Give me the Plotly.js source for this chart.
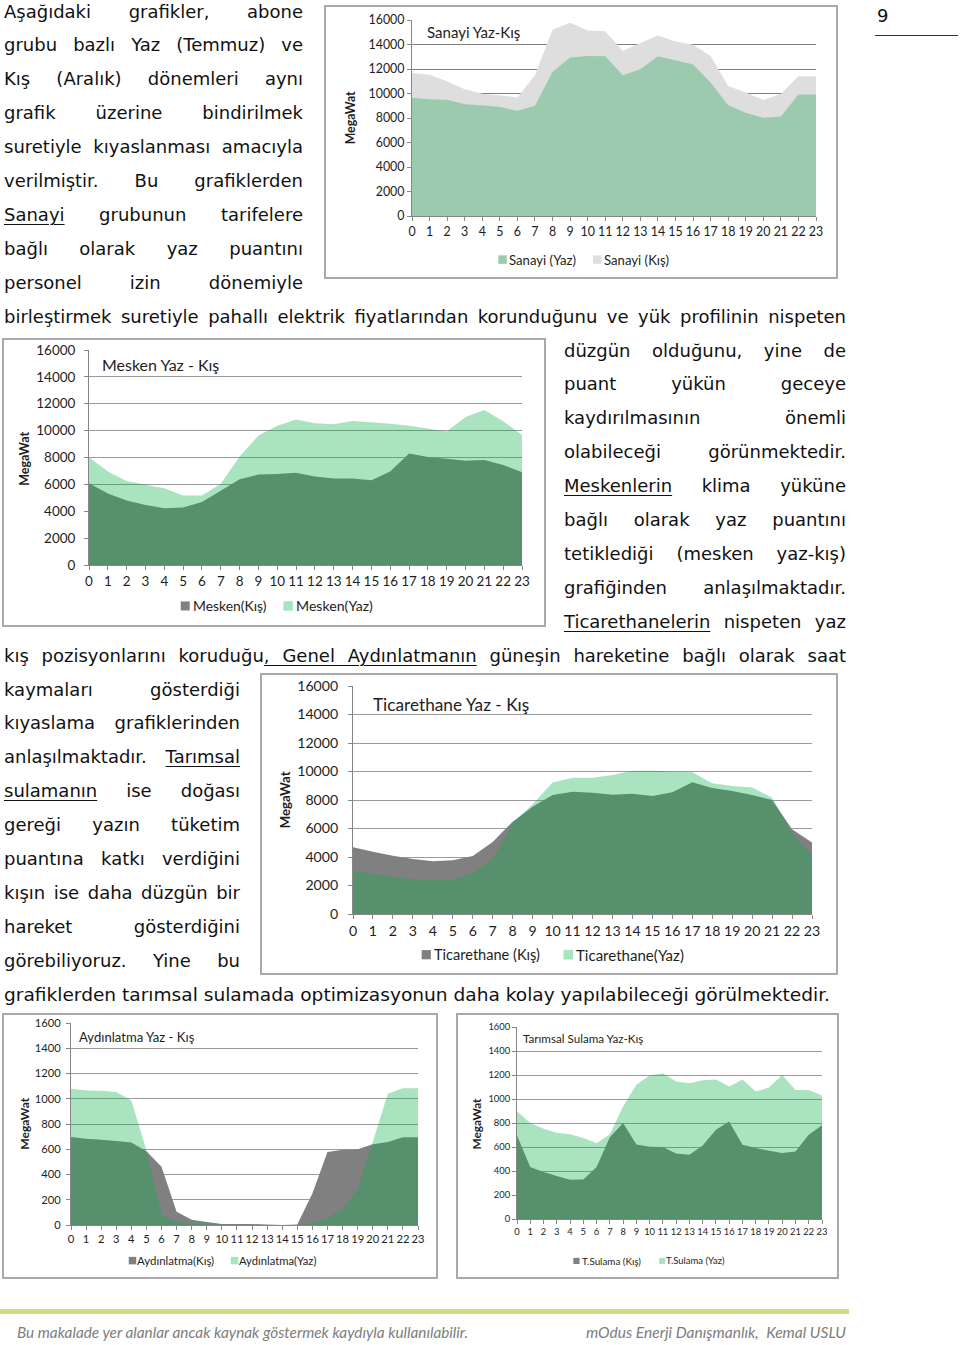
<!DOCTYPE html>
<html>
<head>
<meta charset="utf-8">
<script src="https://cdn.plot.ly/plotly-3.0.1.min.js"></script>
<style>
  html,body{margin:0;padding:0;background:#fff;}
  #page{position:relative;width:960px;height:1345px;overflow:hidden;background:#fff;
        font-family:"DejaVu Sans",Verdana,sans-serif;font-size:18px;color:#111;}
  .ln{position:absolute;height:34px;line-height:34px;}
  .in{display:inline-block;white-space:nowrap;transform-origin:0 50%;}
  .ln u{text-decoration:underline;text-underline-offset:3px;text-decoration-thickness:1px;}
  .foot{font-family:"Lato","Open Sans",sans-serif;font-style:italic;font-weight:400;color:#7d7d7d;font-size:15px;}
  .ch{position:absolute;}
  .frame{position:absolute;border:2px solid #a9a9a9;box-sizing:border-box;pointer-events:none;}
</style>
</head>
<body>
<div id="page"></div>
<script>
// ---------------- data ----------------
const hours = [0,1,2,3,4,5,6,7,8,9,10,11,12,13,14,15,16,17,18,19,20,21,22,23];
const hourLabels = ["0","1","2","3","4","5","6","7","8","9","10","11","12","13","14","15","16","17","18","19","20","21","22","23"];

const sanayiYaz = [9650,9540,9490,9130,9050,8890,8590,9000,11760,12930,13060,13040,11490,11980,13040,12710,12360,10890,9050,8430,8020,8130,9920,9920];
const sanayiKis = [11680,11540,11000,10350,9970,9860,9670,11490,15200,15770,15150,15090,13470,14120,14740,14250,13980,13060,10620,10080,9460,9950,11410,11410];

const meskenKis = [6090,5320,4800,4460,4230,4280,4680,5520,6390,6730,6780,6860,6580,6440,6440,6310,6960,8290,8040,7900,7750,7820,7450,6910];
const meskenYaz = [8020,6960,6260,5970,5720,5170,5170,6040,8070,9630,10370,10820,10540,10470,10720,10620,10520,10370,10150,9930,11010,11530,10690,9680];

const ticaretKis = [4680,4370,4090,3860,3700,3770,4070,5050,6480,7530,8350,8580,8510,8370,8440,8280,8540,9240,8840,8630,8350,8000,5940,5010];
const ticaretYaz = [3020,2810,2620,2430,2390,2390,2920,3840,6360,7700,9220,9570,9570,9750,10060,10060,9990,9940,9170,8980,8870,8160,5660,4140];

const aydinKis = [697,684,676,666,653,584,461,105,42,24,8,8,8,3,0,3,250,579,597,600,639,658,695,695];
const aydinYaz = [1079,1066,1063,1053,987,592,79,26,10,5,3,0,0,0,0,0,13,58,118,289,658,1039,1084,1084];

const sulamaKis = [696,433,391,358,327,330,433,682,799,621,602,599,546,535,613,743,813,618,591,569,549,563,702,782];
const sulamaYaz = [898,799,752,718,707,674,632,707,937,1118,1195,1215,1145,1131,1156,1162,1104,1162,1062,1095,1201,1076,1076,1029];

// ---------------- text ----------------
const col1 = ["Aşağıdaki grafikler, abone","grubu bazlı Yaz (Temmuz) ve","Kış (Aralık) dönemleri aynı","grafik üzerine bindirilmek","suretiyle kıyaslanması amacıyla","verilmiştir. Bu grafiklerden","<u>Sanayi</u> grubunun tarifelere","bağlı olarak yaz puantını","personel izin dönemiyle"];
const full1 = "birleştirmek suretiyle pahallı elektrik fiyatlarından korunduğunu ve yük profilinin nispeten";
const col2 = ["düzgün olduğunu, yine de","puant yükün geceye","kaydırılmasının önemli","olabileceği görünmektedir.","<u>Meskenlerin</u> klima yüküne","bağlı olarak yaz puantını","tetiklediği (mesken yaz-kış)","grafiğinden anlaşılmaktadır.","<u>Ticarethanelerin</u> nispeten yaz"];
const full2 = "kış pozisyonlarını koruduğu<u>, Genel Aydınlatmanın</u> güneşin hareketine bağlı olarak saat";
const col3 = ["kaymaları gösterdiği","kıyaslama grafiklerinden","anlaşılmaktadır. <u>Tarımsal</u>","<u>sulamanın</u> ise doğası","gereği yazın tüketim","puantına katkı verdiğini","kışın ise daha düzgün bir","hareket gösterdiğini","görebiliyoruz. Yine bu"];
const lastLine = "grafiklerden tarımsal sulamada optimizasyonun daha kolay yapılabileceği görülmektedir.";
const footLeft = "Bu makalade yer alanlar ancak kaynak göstermek kaydıyla kullanılabilir.";
const footRight = "mOdus Enerji Danışmanlık,&nbsp; Kemal USLU";
const pageNo = "9";

// ---------------- helpers ----------------
const page = document.getElementById('page');
const cv = document.createElement('canvas').getContext('2d');
function fitSize(text, w, weight, fam){
  cv.font = (weight||'normal') + ' 100px ' + fam;
  return 100 * w / cv.measureText(text).width;
}
// mode: 'justify' | 'left' | 'fit' (stretch/condense to exact width)
function textLine(x, cy, w, html, mode, cls){
  const d = document.createElement('div');
  d.className = 'ln ' + (cls||'');
  d.style.left = x + 'px'; d.style.top = (cy - 17.5) + 'px'; d.style.width = w + 'px';
  const s = document.createElement('span'); s.className = 'in'; s.innerHTML = html;
  d.appendChild(s); page.appendChild(d);
  const nat = s.getBoundingClientRect().width;
  if (mode === 'fit' || nat > w - 0.5) {
    s.style.transform = 'scaleX(' + (w/nat) + ')';
  } else if (mode === 'justify') {
    s.style.display = 'block'; s.style.whiteSpace = 'normal';
    s.style.textAlign = 'justify'; s.style.textAlignLast = 'justify';
  }
}
function rule(x, y, w, h, color){
  const d = document.createElement('div');
  d.style.cssText = 'position:absolute;left:'+x+'px;top:'+y+'px;width:'+w+'px;height:'+h+'px;background:'+color+';';
  page.appendChild(d);
}

const FONT = 'Lato';
const TXT = '#1e1e1e';
const KIS_GREY = '#808080';
const YAZ_GREEN = 'rgba(9,175,75,0.35)';

const charts = [
  {box:[324,5,514,274], m:{l:88.3,r:22.3,t:14.7,b:62.7}, ymax:16000, dtick:2000,
   kis:sanayiKis, yaz:sanayiYaz, kisName:'Sanayi (Kış)', yazName:'Sanayi (Yaz)',
   kisColor:'#dedede', yazColor:'#9bcaaf', grid:'#7f7f7f', gridAbove:true,
   title:['Sanayi Yaz-Kış',427.3,31.7,94], ytitle:[350.7,118,53], tickW:36, ygap:12.6, xdy:16.4,
   legY:260, legend:[['yaz',498.5,507,509,576],['kis',593,601.5,604,669]]},
  {box:[2,338,544,289], m:{l:86.9,r:23.7,t:11.7,b:62}, ymax:16000, dtick:2000,
   kis:meskenKis, yaz:meskenYaz, kisName:'Mesken(Kış)', yazName:'Mesken(Yaz)',
   kisColor:KIS_GREY, yazColor:YAZ_GREEN, grid:'#9a9a9a',
   title:['Mesken Yaz - Kış',102,364.7,118], ytitle:[23.5,459,54], tickW:39, ygap:13, xdy:18,
   legY:606, legend:[['kis',180.7,189.7,192.5,266],['yaz',283.5,293,296,373]]},
  {box:[260,673,578,302], m:{l:92.5,r:25.6,t:13.3,b:60.7}, ymax:16000, dtick:2000,
   kis:ticaretKis, yaz:ticaretYaz, kisName:'Ticarethane (Kış)', yazName:'Ticarethane(Yaz)',
   kisColor:KIS_GREY, yazColor:YAZ_GREEN, grid:'#9a9a9a',
   title:['Ticarethane Yaz - Kış',372.8,705,157], ytitle:[284,800,57], tickW:41, ygap:14, xdy:17.7,
   legY:955, legend:[['kis',421.3,430.5,434,540],['yaz',563.4,573,576,684]]},
  {box:[2,1013,436,266], m:{l:69.3,r:20,t:9.7,b:53.7}, ymax:1600, dtick:200,
   kis:aydinKis, yaz:aydinYaz, kisName:'Aydınlatma(Kış)', yazName:'Aydınlatma(Yaz)',
   kisColor:KIS_GREY, yazColor:YAZ_GREEN, grid:'#9a9a9a',
   title:['Aydınlatma Yaz - Kış',79.3,1037,116], ytitle:[25.3,1123.7,52], tickW:26, ygap:10, xdy:16,
   legY:1261, legend:[['kis',129,136.5,137.5,214.7],['yaz',231,238.5,239.5,317]]},
  {box:[456,1013,383,266], m:{l:61,r:17.3,t:13.7,b:60}, ymax:1600, dtick:200,
   kis:sulamaKis, yaz:sulamaYaz, kisName:'T.Sulama (Kış)', yazName:'T.Sulama (Yaz)',
   kisColor:KIS_GREY, yazColor:YAZ_GREEN, grid:'#9a9a9a',
   title:['Tarımsal Sulama Yaz-Kış',523.3,1038.7,121], ytitle:[476.7,1123.7,51], tickW:21.7, ygap:8.7, xdy:15.7,
   legY:1261, legend:[['kis',573.3,579.5,581.7,640.7],['yaz',659,665,665.7,724.3]]}
];

function drawChart(c){
  const [bx,by,bw,bh] = c.box;
  const div = document.createElement('div');
  div.className = 'ch';
  div.style.left = bx+'px'; div.style.top = by+'px'; div.style.width = bw+'px'; div.style.height = bh+'px';
  page.appendChild(div);
  const fr = document.createElement('div');
  fr.className = 'frame';
  fr.style.left = bx+'px'; fr.style.top = by+'px'; fr.style.width = bw+'px'; fr.style.height = bh+'px';
  page.appendChild(fr);

  const pw = bw - c.m.l - c.m.r, ph = bh - c.m.t - c.m.b;
  const xp = X => (X - bx - c.m.l) / pw;
  const yp = Y => (by + bh - c.m.b - Y) / ph;
  const tickSize = fitSize(String(c.ymax), c.tickW, 'normal', FONT);

  const traces = [
    {x:hours, y:c.kis, type:'scatter', mode:'none', fill:'tozeroy', fillcolor:c.kisColor, name:c.kisName, hoverinfo:'skip'},
    {x:hours, y:c.yaz, type:'scatter', mode:'none', fill:'tozeroy', fillcolor:c.yazColor, name:c.yazName, hoverinfo:'skip'}
  ];

  const ann = [], shapes = [];
  ann.push({xref:'paper', yref:'paper', x:xp(c.title[1]-1), y:yp(c.title[2]), xanchor:'left', yanchor:'middle',
            text:c.title[0], showarrow:false, borderpad:0,
            font:{family:FONT, size:fitSize(c.title[0], c.title[3], 'normal', FONT), color:TXT}});
  ann.push({xref:'paper', yref:'paper', x:xp(c.ytitle[0]), y:yp(c.ytitle[1]), xanchor:'center', yanchor:'middle',
            text:'<b>MegaWat</b>', textangle:-90, showarrow:false, borderpad:0,
            font:{family:FONT, size:fitSize('MegaWat', c.ytitle[2], 'bold', FONT), color:TXT}});
  c.legend.forEach(it => {
    const [key, sx0, sx1, tx0, tx1] = it;
    const label = key === 'kis' ? c.kisName : c.yazName;
    const col = key === 'kis' ? c.kisColor : c.yazColor;
    const s = sx1 - sx0;
    shapes.push({type:'rect', xref:'paper', yref:'paper', xsizemode:'pixel', ysizemode:'pixel',
                 xanchor:xp(sx0), yanchor:yp(c.legY), x0:0, x1:s, y0:-s/2, y1:s/2,
                 fillcolor:col, line:{width:0}, layer:'above'});
    ann.push({xref:'paper', yref:'paper', x:xp(tx0-1), y:yp(c.legY), xanchor:'left', yanchor:'middle',
              text:label, showarrow:false, borderpad:0,
              font:{family:FONT, size:fitSize(label, tx1-tx0, 'normal', FONT), color:TXT}});
  });

  const layout = {
    width:bw, height:bh, margin:{l:c.m.l, r:c.m.r, t:c.m.t, b:c.m.b, pad:0},
    paper_bgcolor:'rgba(0,0,0,0)', plot_bgcolor:'rgba(0,0,0,0)', showlegend:false,
    font:{family:FONT+', sans-serif', color:TXT},
    xaxis:{range:[0,23], tickmode:'array', tickvals:hours, ticktext:hourLabels, tickangle:0, showgrid:false, zeroline:false,
           showline:true, linecolor:'#868686', linewidth:1, ticks:'outside', ticklen:4, tickcolor:'#868686',
           tickfont:{family:FONT, size:tickSize, color:TXT}, ticklabelstandoff:Math.max(0, c.xdy - 4 - tickSize*0.5 - 2),
           layer:'above traces', fixedrange:true},
    yaxis:{range:[0,c.ymax], tick0:0, dtick:c.dtick, tickformat:'d', showgrid:true, gridcolor:c.grid, gridwidth:1, zeroline:false,
           showline:true, linecolor:'#868686', linewidth:1, ticks:'outside', ticklen:4, tickcolor:'#868686',
           tickfont:{family:FONT, size:tickSize, color:TXT}, ticklabelstandoff:Math.max(0, c.ygap - 4 - 3),
           layer:'above traces', fixedrange:true},
    annotations:ann, shapes:shapes
  };
  return Plotly.newPlot(div, traces, layout, {staticPlot:true, displayModeBar:false}).then(gd => {
    if (c.gridAbove) {
      const grid = gd.querySelector('.gridlayer');
      const plot = gd.querySelector('.plot');
      if (grid && plot) plot.parentNode.insertBefore(grid, plot.nextSibling);
    }
  });
}

function build(){
  // body text
  const pitch = 33.9, c0 = 12;
  const cy = k => c0 + pitch * k;
  col1.forEach((t,i) => textLine(4, cy(i), 299, t, 'justify'));
  textLine(4, cy(9), 842, full1, 'justify');
  col2.forEach((t,i) => textLine(564, cy(10+i), 282, t, 'justify'));
  textLine(4, cy(19), 842, full2, 'justify');
  col3.forEach((t,i) => textLine(4, cy(20+i), 236, t, 'justify'));
  textLine(4, cy(29), 826, lastLine, 'fit');

  // page number and its rule
  textLine(877, 16, 20, pageNo, 'left');
  rule(875, 35, 83, 1, '#333');

  // footer
  rule(0, 1309, 849, 5, '#d3db7e');
  textLine(17, 1332, 451, footLeft, 'fit', 'foot');
  textLine(586, 1332, 260, footRight, 'fit', 'foot');

  charts.forEach(drawChart);
}
(document.fonts && document.fonts.ready ? document.fonts.ready : Promise.resolve()).then(build);
</script>
</body>
</html>
